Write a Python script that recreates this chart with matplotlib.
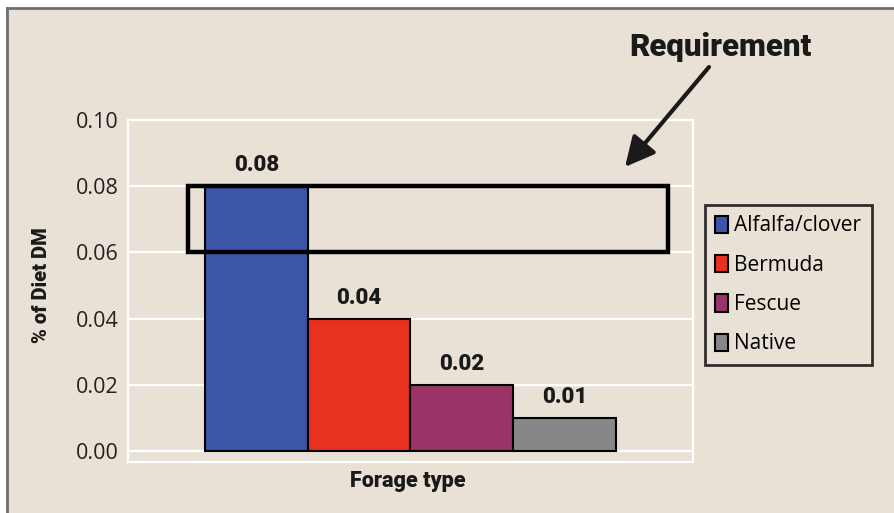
import matplotlib
matplotlib.use("Agg")
import matplotlib.pyplot as plt
from matplotlib.patches import Rectangle, Patch
from matplotlib.lines import Line2D

categories = ["Alfalfa/clover", "Bermuda", "Fescue", "Native"]
values = [0.08, 0.04, 0.02, 0.01]
value_labels = ["0.08", "0.04", "0.02", "0.01"]
colors = ["#3b56a8", "#e8321f", "#9a3467", "#878787"]
requirement_low = 0.06
requirement_high = 0.08
yticks = [0.00, 0.02, 0.04, 0.06, 0.08, 0.10]
ytick_labels = ["0.00", "0.02", "0.04", "0.06", "0.08", "0.10"]

W, H = 895, 513
fig = plt.figure(figsize=(W / 100, H / 100), dpi=100)
fig.patch.set_facecolor("white")

bg = "#e9e1d5"
fig.patches.append(Rectangle((8 / W, 0), 1 - 8 / W, 1 - 8 / H, transform=fig.transFigure,
                             facecolor=bg, edgecolor="none", zorder=-5))
fig.lines.append(Line2D([7.5 / W, 1], [1 - 8 / H, 1 - 8 / H], transform=fig.transFigure,
                        color="#6e6e6e", lw=2, zorder=-4))
fig.lines.append(Line2D([7.5 / W, 7.5 / W], [0, 1 - 8 / H], transform=fig.transFigure,
                        color="#6e6e6e", lw=2, zorder=-4))

ax = fig.add_axes([128 / W, 1 - 462 / H, (693 - 128) / W, (462 - 120) / H])
ax.set_zorder(1)
ax.set_facecolor("none")
ax.set_xlim(-0.5, 0.5)
ax.set_ylim(-0.0033, 0.10)

bold_font = ["Roboto", "DejaVu Sans"]
reg_font = ["Open Sans", "DejaVu Sans"]

ax.set_yticks(yticks)
ax.set_yticklabels(ytick_labels, fontfamily=reg_font, fontsize=15.5, color="#222222")
ax.set_xticks([])
ax.tick_params(axis="y", length=0, pad=7)
ax.yaxis.grid(True, color="white", lw=1.6)
ax.set_axisbelow(True)
for s in ax.spines.values():
    s.set_color("white")
    s.set_linewidth(1.6)

width = 0.182
n = len(values)
offsets = [(i - (n - 1) / 2) * width for i in range(n)]
bars = ax.bar(offsets, values, width=width, color=colors, edgecolor="black", lw=1.5, zorder=2)
for x, v, lab in zip(offsets, values, value_labels):
    ax.annotate(lab, (x, v), xytext=(0, 7), textcoords="offset points", ha="center", va="bottom",
                fontfamily=bold_font, fontweight="black", fontsize=16, color="#1a1a1a")

rect = Rectangle((-0.394, requirement_low), 0.85, requirement_high - requirement_low,
                 fill=False, edgecolor="black", lw=3.2, zorder=3, clip_on=False)
ax.add_patch(rect)

handles = [Patch(facecolor=c, edgecolor="black", lw=1.5) for c in colors]
leg = fig.legend(handles, categories, loc="upper left", bbox_to_anchor=(705 / W, 1 - 205 / H),
                 bbox_transform=fig.transFigure, prop={"family": reg_font, "size": 15},
                 frameon=True, fancybox=False, handlelength=0.6, handleheight=0.9,
                 handletextpad=0.3, labelspacing=0.88, borderpad=0.5, borderaxespad=0)
leg.get_frame().set_edgecolor("black")
leg.get_frame().set_linewidth(2)
leg.get_frame().set_facecolor("none")
leg.set_zorder(2)

fig.text(42 / W, 1 - 285 / H, "% of Diet DM", rotation=90, ha="center", va="center",
         fontfamily=bold_font, fontweight="black", fontsize=14.5, color="#1a1a1a")
fig.text(408 / W, 1 - 481 / H, "Forage type", ha="center", va="center",
         fontfamily=bold_font, fontweight="black", fontsize=15.5, color="#1a1a1a")
fig.text(720 / W, 1 - 47 / H, "Requirement", ha="center", va="center",
         fontfamily=bold_font, fontweight="black", fontsize=22.5, color="#1a1a1a")

ax.annotate("", xy=(625, H - 167), xycoords="figure pixels",
            xytext=(709, H - 67), textcoords="figure pixels",
            arrowprops=dict(arrowstyle="-|>,head_length=0.9,head_width=0.45", color="#1a1a1a",
                            lw=3, mutation_scale=20, shrinkA=0, shrinkB=0))

fig.savefig("out.png", dpi=100, facecolor=fig.get_facecolor())
